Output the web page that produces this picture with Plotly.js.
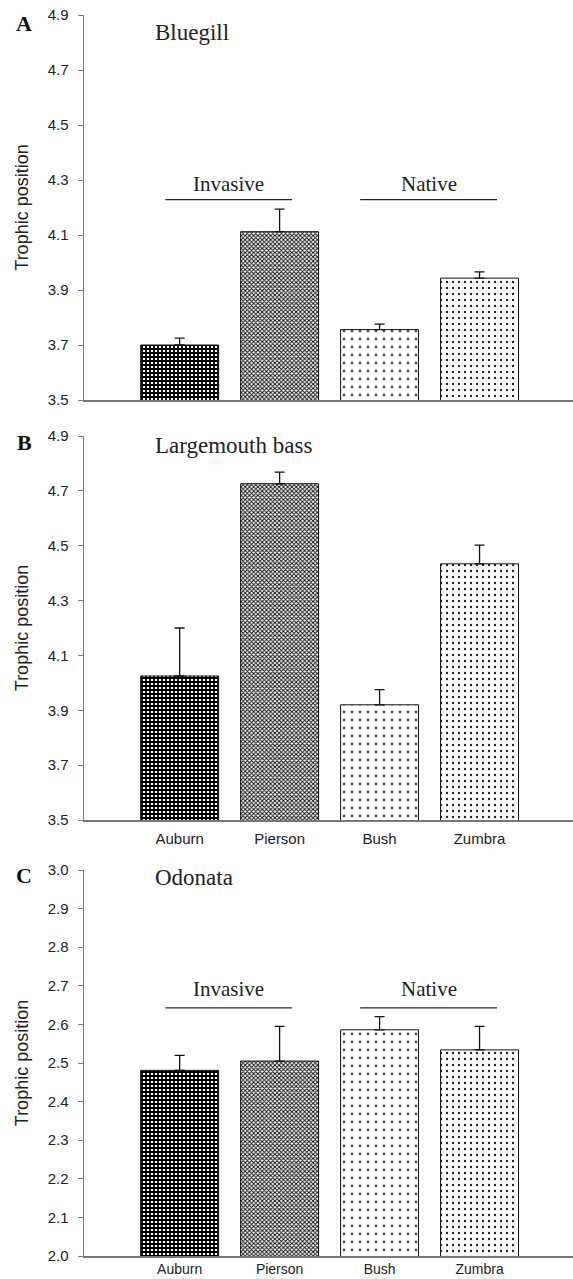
<!DOCTYPE html>
<html>
<head>
<meta charset="utf-8">
<script src="https://cdn.plot.ly/plotly-3.0.1.min.js"></script>
<style>html,body{margin:0;padding:0;background:#fff;}#chart{width:573px;height:1279px;}</style>
</head>
<body>
<div id="chart"></div>
<script>
// Data
const sites = ['Auburn', 'Pierson', 'Bush', 'Zumbra'];
const bluegill = [3.700, 4.112, 3.756, 3.943];
const bluegillErr = [0.025, 0.082, 0.020, 0.023];
const bass = [4.025, 4.726, 3.920, 4.434];
const bassErr = [0.175, 0.042, 0.055, 0.068];
const odonata = [2.481, 2.505, 2.586, 2.534];
const odonataErr = [0.039, 0.090, 0.034, 0.061];
const panelTitles = ['Bluegill', 'Largemouth bass', 'Odonata'];
const panelLetters = ['A', 'B', 'C'];
const groupLabels = ['Invasive', 'Native'];

const W = 573, H = 1279;
const fy = px => 1 - px / H;
const pattern = {
  shape: ['+', 'x', '.', '.'],
  fgcolor: ['#000', '#111', '#555', '#222'],
  bgcolor: ['#fff', '#fff', '#fff', '#fff'],
  size: [4, 3, 8, 6],
  solidity: [0.7, 0.55, 0.1, 0.12],
  fillmode: 'replace'
};

function barTrace(vals, errs, xa, ya) {
  return {
    type: 'bar', x: sites, y: vals, xaxis: xa, yaxis: ya,
    width: 0.78,
    marker: { color: '#fff', line: { color: '#111', width: 1 }, pattern: pattern },
    error_y: { type: 'data', symmetric: false, array: errs, arrayminus: errs.map(() => 0),
      color: '#111', thickness: 1.3, width: 5 },
    showlegend: false, hoverinfo: 'none'
  };
}

const data = [
  barTrace(bluegill, bluegillErr, 'x', 'y'),
  barTrace(bass, bassErr, 'x2', 'y2'),
  barTrace(odonata, odonataErr, 'x3', 'y3')
];

const sans = 'Liberation Sans, Arial, sans-serif';
const serif = 'Liberation Serif, Times New Roman, serif';
const xdom = [84 / W, 1];
const xrange = [-0.957, 3.935];
function xax(show, standoff, size) {
  return { domain: xdom, range: xrange, type: 'category', showline: true, linecolor: '#777', linewidth: 1.5,
    ticks: '', showticklabels: show, showgrid: false, zeroline: false, ticklabelstandoff: standoff,
    tickfont: { family: sans, size: size, color: '#222' } };
}
function yax(dom, range, dtick, anchor) {
  return { domain: dom, range: range, dtick: dtick, tick0: range[0], tickformat: '.1f', anchor: anchor,
    showline: true, linecolor: '#777', linewidth: 1.5, ticks: 'outside', ticklen: 5, tickcolor: '#777',
    tickwidth: 1, showgrid: false, zeroline: false, ticklabelstandoff: 6,
    tickfont: { family: sans, size: 15, color: '#222' },
    title: { text: 'Trophic position', standoff: 14, font: { family: sans, size: 18, color: '#222' } } };
}

const ann = [];
const titleY = [32, 446, 877];
const letterY = [23, 443, 875];
panelTitles.forEach((t, i) => {
  ann.push({ xref: 'paper', yref: 'paper', x: 153 / W, y: fy(titleY[i]), xanchor: 'left', yanchor: 'middle',
    text: t, showarrow: false, font: { family: serif, size: 23, color: '#222' } });
  ann.push({ xref: 'paper', yref: 'paper', x: 24 / W, y: fy(letterY[i]), xanchor: 'center', yanchor: 'middle',
    text: '<b>' + panelLetters[i] + '</b>', showarrow: false, font: { family: serif, size: 22, color: '#111' } });
});
const groupX = [0.49, 2.49];
[['x', 'y', 4.285], ['x3', 'y3', 2.693]].forEach(([xa, ya, yv]) => {
  groupLabels.forEach((g, j) => {
    ann.push({ xref: xa, yref: ya, x: groupX[j], y: yv, text: g, showarrow: false, yanchor: 'middle',
      font: { family: serif, size: 21, color: '#222' } });
  });
});

const lineSeg = [[-0.143, 1.123], [1.806, 3.175]];
const shapes = [];
[['x', 'y', 4.229], ['x3', 'y3', 2.643]].forEach(([xa, ya, yv]) => {
  lineSeg.forEach(s => shapes.push({ type: 'line', xref: xa, yref: ya, x0: s[0], x1: s[1], y0: yv, y1: yv,
    line: { color: '#222', width: 1.2 } }));
});

const layout = {
  width: W, height: H, margin: { l: 0, r: 0, t: 0, b: 0 },
  paper_bgcolor: '#fff', plot_bgcolor: 'rgba(0,0,0,0)',
  xaxis: Object.assign(xax(false, 4, 15), { anchor: 'y' }),
  xaxis2: Object.assign(xax(true, 4, 15), { anchor: 'y2' }),
  xaxis3: Object.assign(xax(true, 0, 14), { anchor: 'y3' }),
  yaxis: yax([fy(400), fy(15)], [3.5, 4.9], 0.2, 'x'),
  yaxis2: yax([fy(820), fy(436)], [3.5, 4.9], 0.2, 'x2'),
  yaxis3: yax([fy(1256), fy(870)], [2.0, 3.0], 0.1, 'x3'),
  annotations: ann, shapes: shapes, bargap: 0.22
};

Plotly.newPlot('chart', data, layout, { staticPlot: true, displayModeBar: false });
</script>
</body>
</html>
